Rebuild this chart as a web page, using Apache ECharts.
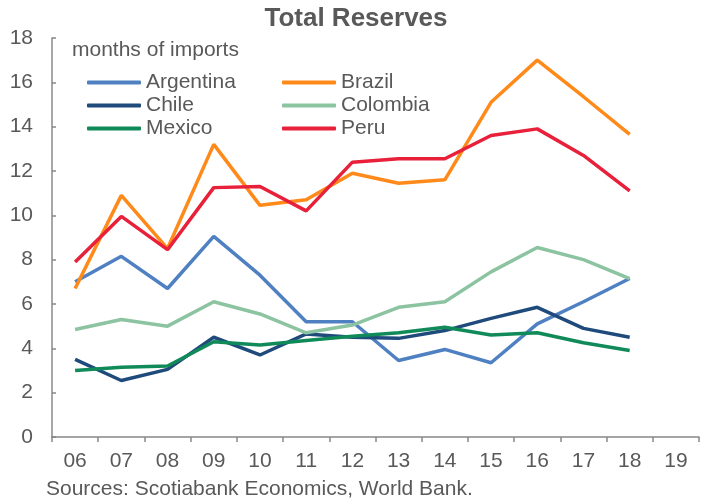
<!DOCTYPE html>
<html>
<head>
<meta charset="utf-8">
<script src="https://cdn.jsdelivr.net/npm/echarts@6/dist/echarts.min.js"></script>
<style>
  html, body { margin: 0; padding: 0; background: #fff; }
  #chart { width: 712px; height: 504px; }
</style>
</head>
<body>
<div id="chart"></div>
<script>
// Years on the category axis (2006–2019)
const years = ['06', '07', '08', '09', '10', '11', '12', '13', '14', '15', '16', '17', '18', '19'];

// Total reserves, months of imports
const argentina = [7.0, 8.15, 6.7, 9.05, 7.3, 5.2, 5.2, 3.45, 3.95, 3.35, 5.1, 6.1, 7.15];
const brazil    = [6.7, 10.9, 8.5, 13.2, 10.45, 10.7, 11.9, 11.45, 11.6, 15.1, 17.0, 15.35, 13.65];
const chile     = [3.5, 2.55, 3.05, 4.5, 3.7, 4.65, 4.5, 4.45, 4.8, 5.35, 5.85, 4.9, 4.5];
const colombia  = [4.85, 5.3, 5.0, 6.1, 5.55, 4.7, 5.05, 5.85, 6.1, 7.45, 8.55, 8.0, 7.15];
const mexico    = [3.0, 3.15, 3.2, 4.3, 4.15, 4.35, 4.55, 4.7, 4.95, 4.6, 4.7, 4.25, 3.9];
const peru      = [7.9, 9.95, 8.45, 11.25, 11.3, 10.2, 12.4, 12.55, 12.55, 13.6, 13.9, 12.7, 11.1];

const textColor = '#595959';
const axisColor = '#888888';
const font = 'Liberation Sans, Arial, sans-serif';

function line(name, data, color) {
  return {
    name: name,
    type: 'line',
    data: data,
    symbol: 'none',
    lineStyle: { width: 3.5, color: color },
    itemStyle: { color: color },
    z: 3
  };
}

const series = [
  line('Argentina', argentina, '#4F81C2'),
  line('Brazil', brazil, '#FF8A1A'),
  line('Chile', chile, '#1F4A7C'),
  line('Colombia', colombia, '#8CC3A0'),
  line('Mexico', mexico, '#118A5A'),
  line('Peru', peru, '#E8203A')
];

const legendBase = {
  orient: 'vertical',
  top: 72,
  padding: 0,
  itemWidth: 54,
  itemHeight: 4,
  itemGap: 2,
  icon: 'roundRect',
  textStyle: { color: textColor, fontSize: 21, fontFamily: font, padding: [0, 0, 0, 0], lineHeight: 21 }
};

const chart = echarts.init(document.getElementById('chart'));
chart.setOption({
  animation: false,
  textStyle: { fontFamily: font },
  title: {
    text: 'Total Reserves',
    left: 'center',
    top: 6,
    padding: 0,
    textStyle: { color: textColor, fontSize: 26, fontWeight: 'bold', fontFamily: font }
  },
  legend: [
    Object.assign({}, legendBase, { left: 87, data: ['Argentina', 'Chile', 'Mexico'] }),
    Object.assign({}, legendBase, { left: 282, data: ['Brazil', 'Colombia', 'Peru'] })
  ],
  graphic: [
    {
      type: 'text',
      left: 72,
      top: 40,
      style: { text: 'months of imports', fill: textColor, font: '21px ' + font }
    },
    {
      type: 'text',
      left: 46,
      top: 479,
      style: { text: 'Sources: Scotiabank Economics, World Bank.', fill: textColor, font: '21px ' + font }
    }
  ],
  grid: { left: 52, right: 13, top: 38, bottom: 67, containLabel: false },
  xAxis: {
    type: 'category',
    data: years,
    boundaryGap: true,
    axisLine: { lineStyle: { color: axisColor, width: 1.5 } },
    axisTick: { show: true, length: 5, lineStyle: { color: axisColor, width: 1.5 } },
    axisLabel: { color: textColor, fontSize: 21, margin: 14, fontFamily: font }
  },
  yAxis: {
    type: 'value',
    min: 0,
    max: 18,
    interval: 2,
    axisLine: { show: true, lineStyle: { color: axisColor, width: 1.5 } },
    axisTick: { show: true, inside: true, length: 4, lineStyle: { color: axisColor, width: 1.5 } },
    axisLabel: { color: textColor, fontSize: 21, margin: 19, fontFamily: font },
    splitLine: { show: false }
  },
  series: series
});
</script>
</body>
</html>
